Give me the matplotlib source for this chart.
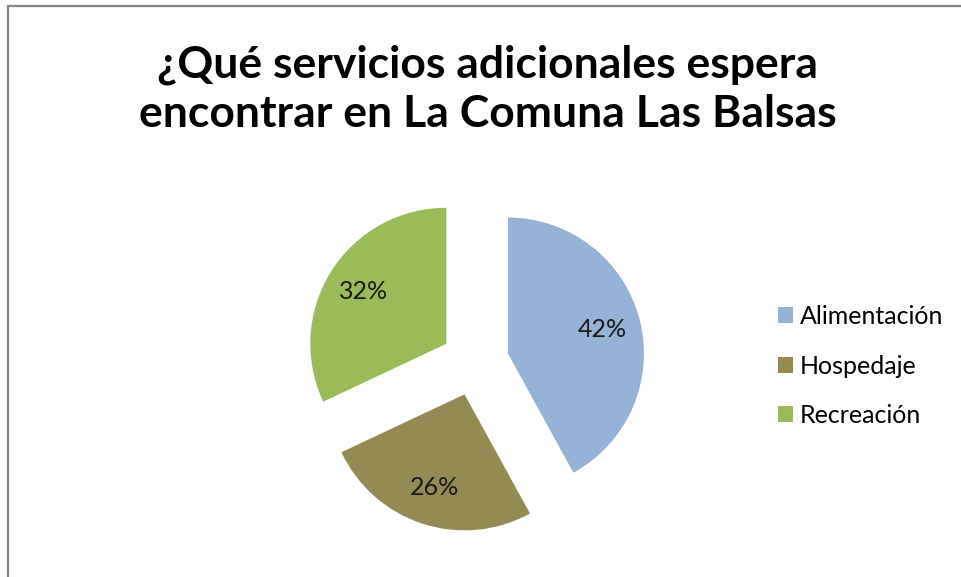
import matplotlib
matplotlib.use("Agg")
import matplotlib.pyplot as plt
from matplotlib.patches import Rectangle

plt.rcParams['font.family'] = ['Lato', 'DejaVu Sans']

# datos del gráfico
categorias = ['Alimentación', 'Hospedaje', 'Recreación']
porcentajes = [42, 26, 32]
colores = ['#95B3D7', '#948A54', '#9BBB59']
titulo = '¿Qué servicios adicionales espera\nencontrar en La Comuna Las Balsas'

W, H = 961, 577
fig = plt.figure(figsize=(W / 100, H / 100), dpi=100)

# marco gris del área del gráfico (solo se ven borde izquierdo y superior)
fig.patches.append(Rectangle((8 / W, -0.05), 1.2, (H - 6) / H + 0.05,
                             transform=fig.transFigure, fill=False,
                             edgecolor='#868686', linewidth=1.6))

# eje del pastel: centro en (475, 362) px, radio 136 px
r = 136
cx, cy = 475, 362
lado = 3 * r
ax = fig.add_axes([(cx - lado / 2) / W, (H - cy - lado / 2) / H, lado / W, lado / H])

wedges, textos, autotextos = ax.pie(
    porcentajes,
    colors=colores,
    startangle=90,
    counterclock=False,
    explode=[0.25] * len(porcentajes),
    autopct='%1.0f%%',
    pctdistance=0.72,
    textprops={'fontsize': 18, 'color': '#1a1a1a'},
)
ax.set_xlim(-1.5, 1.5)
ax.set_ylim(-1.5, 1.5)
ax.set_aspect('equal')
ax.axis('off')

fig.text(488 / W, 1 - 89 / H, titulo, ha='center', va='center',
         fontsize=32, fontweight='bold', linespacing=1.27)

fig.legend(wedges, categorias, loc='center left',
           bbox_to_anchor=(765 / W, (H - 366) / H),
           frameon=False, fontsize=18,
           handlelength=0.6, handleheight=0.6,
           handletextpad=0.3, labelspacing=1.06, borderpad=0)

fig.savefig('out.png', dpi=100)
